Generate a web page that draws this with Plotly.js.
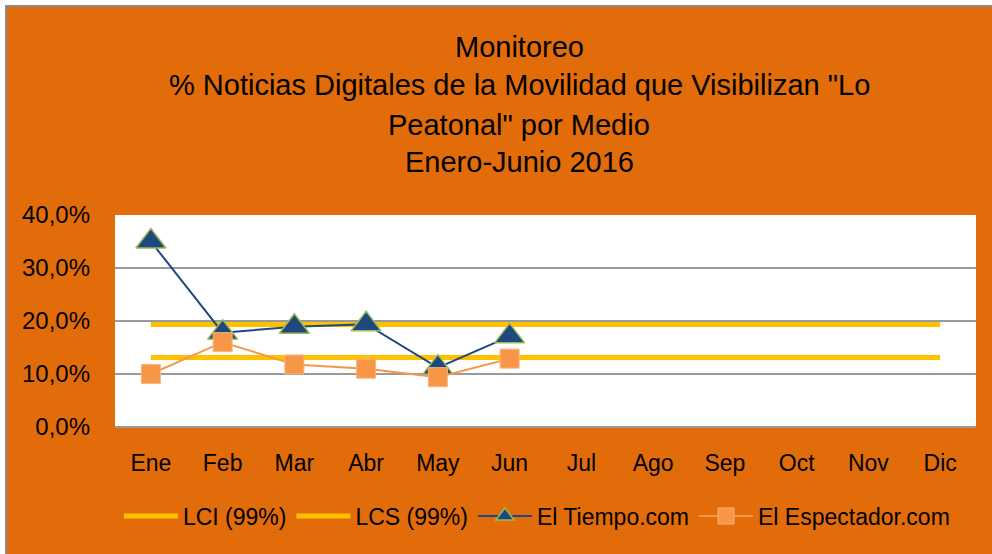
<!DOCTYPE html>
<html><head><meta charset="utf-8">
<script src="https://cdn.plot.ly/plotly-3.0.1.min.js"></script>
<style>
html,body{margin:0;padding:0;background:#fff;width:992px;height:554px;overflow:hidden}
#wrap{position:absolute;left:5px;top:5px;border-left:2px solid #8c8c8c;border-top:2px solid #8c8c8c;width:985px;height:547px}
#chart{width:985px;height:547px}
</style></head>
<body><div id="wrap"><div id="chart"></div></div>
<script>
const months = ["Ene","Feb","Mar","Abr","May","Jun","Jul","Ago","Sep","Oct","Nov","Dic"];
const lci = [0.131,0.131,0.131,0.131,0.131,0.131,0.131,0.131,0.131,0.131,0.131,0.131];
const lcs = [0.1935,0.1935,0.1935,0.1935,0.1935,0.1935,0.1935,0.1935,0.1935,0.1935,0.1935,0.1935];
const tiempo = [0.350,0.178,0.189,0.194,0.112,0.171];
const espectador = [0.100,0.160,0.118,0.110,0.094,0.129];
const titleLines = ["Monitoreo","% Noticias Digitales de la Movilidad que Visibilizan \"Lo","Peatonal\" por Medio","Enero-Junio 2016"];

const F = "Liberation Sans, Arial, sans-serif";
const traces = [
  {x: months, y: lci, name: "LCI (99%)", type: "scatter", mode: "lines", line: {color: "#FFC000", width: 5}},
  {x: months, y: lcs, name: "LCS (99%)", type: "scatter", mode: "lines", line: {color: "#FFC000", width: 5}},
  {x: months.slice(0, tiempo.length), y: tiempo, name: "El Tiempo.com", type: "scatter", mode: "lines+markers",
   line: {color: "#1F497D", width: 2},
   marker: {symbol: "triangle-up", size: 26, color: "#1F497D", line: {color: "#9BBB59", width: 1.5}}},
  {x: months.slice(0, espectador.length), y: espectador, name: "El Espectador.com", type: "scatter", mode: "lines+markers",
   line: {color: "#F79646", width: 2},
   marker: {symbol: "square", size: 19, color: "#F79646", line: {color: "#FAB57E", width: 1}}}
];
const ml = 108, mr = 16, mt = 208, mb = 127;
const pw = 985 - ml - mr, ph = 547 - mt - mb;
const yLine = [40, 78, 118, 155];
const annotations = titleLines.map((t, i) => ({
  text: t, xref: "paper", yref: "paper", x: (512 - ml) / pw, xanchor: "center",
  y: 1 + (mt - yLine[i]) / ph, yanchor: "middle", showarrow: false,
  font: {family: F, size: 29, color: "#000"}
}));
const layout = {
  width: 985, height: 547,
  paper_bgcolor: "#E36C0A", plot_bgcolor: "#FFFFFF",
  margin: {l: ml, r: mr, t: mt, b: mb},
  separators: ",.",
  showlegend: true,
  legend: {orientation: "h", x: 0.49, xanchor: "center", y: -0.42, yanchor: "middle",
    font: {family: F, size: 23, color: "#000"}, bgcolor: "rgba(0,0,0,0)", itemwidth: 54, traceorder: "normal"},
  xaxis: {type: "category", categoryarray: months, range: [-0.5, 11.5], showgrid: false, zeroline: false,
    showline: false, ticks: "", ticklabelstandoff: 20, tickfont: {family: F, size: 23, color: "#000"}, fixedrange: true},
  yaxis: {range: [0, 0.4], dtick: 0.1, tickformat: ".1%", showgrid: true, gridcolor: "#9a9a9a", gridwidth: 1.5,
    zeroline: true, zerolinecolor: "#9a9a9a", zerolinewidth: 1.5, showline: false, ticks: "",
    ticklabelstandoff: 24, tickfont: {family: F, size: 24, color: "#000"}, fixedrange: true},
  annotations: annotations
};
Plotly.newPlot("chart", traces, layout, {displayModeBar: false, staticPlot: true});
</script></body></html>
